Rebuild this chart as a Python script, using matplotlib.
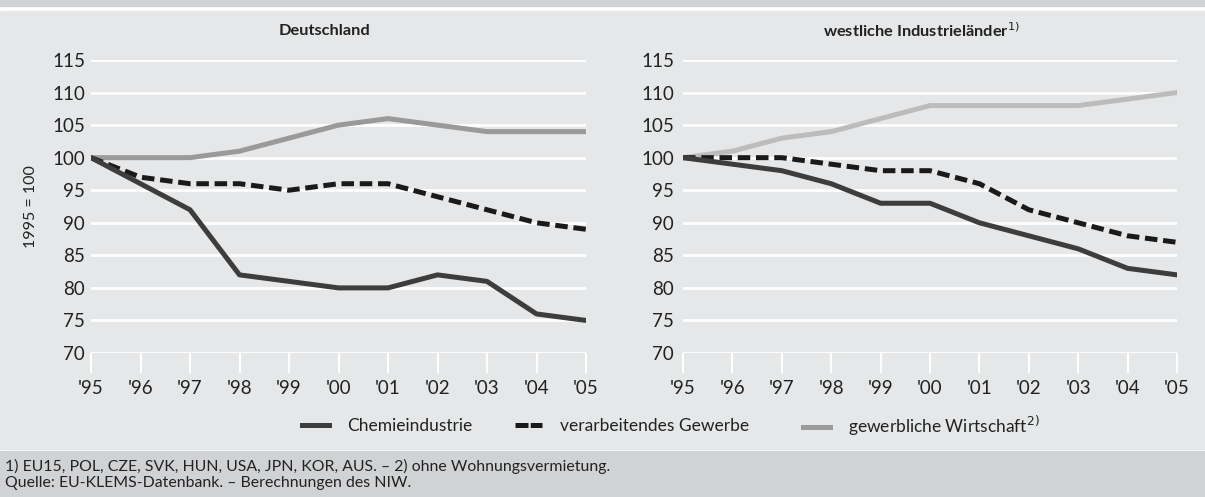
import matplotlib.pyplot as plt
from matplotlib.lines import Line2D
from matplotlib.patches import Rectangle

plt.rcParams['font.family'] = ['Lato', 'DejaVu Sans']

years = list(range(1995, 2006))
year_labels = ["'95", "'96", "'97", "'98", "'99", "'00", "'01", "'02", "'03", "'04", "'05"]
y_ticks = [70, 75, 80, 85, 90, 95, 100, 105, 110, 115]

# Deutschland
de_chemie = [100, 96, 92, 82, 81, 80, 80, 82, 81, 76, 75]
de_verarb = [100, 97, 96, 96, 95, 96, 96, 94, 92, 90, 89]
de_gewerb = [100, 100, 100, 101, 103, 105, 106, 105, 104, 104, 104]

# westliche Industrielaender
wi_chemie = [100, 99, 98, 96, 93, 93, 90, 88, 86, 83, 82]
wi_verarb = [100, 100, 100, 99, 98, 98, 96, 92, 90, 88, 87]
wi_gewerb = [100, 101, 103, 104, 106, 108, 108, 108, 108, 109, 110]

W, H = 1205, 497
fig = plt.figure(figsize=(W / 100, H / 100), dpi=100)
fig.patch.set_facecolor('white')

bg = '#e6e7e8'
band = '#d1d2d4'
fig.patches.append(Rectangle((0, 1 - 6 / H), 1, 6 / H, transform=fig.transFigure, color=band, zorder=-10))
fig.patches.append(Rectangle((0, 1 - 449 / H), 1, 438 / H, transform=fig.transFigure, color=bg, zorder=-10))
fig.patches.append(Rectangle((0, 0), 1, 46 / H, transform=fig.transFigure, color=band, zorder=-10))

txt = '#222222'
c_chemie = '#3d3d3d'
c_verarb = '#1a1a1a'
c_gew_de = '#9a9a9a'
c_gew_wi = '#bcbcbc'
lw = 3.6
dash = (2.5, 1.15)


def panel(left, width, chemie, verarb, gewerb, gew_color, ypad):
    ax = fig.add_axes([left / W, 1 - 353 / H, width / W, 293 / H])
    ax.set_facecolor('none')
    for v in y_ticks:
        ax.axhline(v, color='white', lw=2, zorder=1)
    ax.plot(years, gewerb, color=gew_color, lw=lw, zorder=3)
    ax.plot(years, verarb, color=c_verarb, lw=lw, dashes=dash, dash_capstyle='butt', zorder=4)
    ax.plot(years, chemie, color=c_chemie, lw=lw, zorder=5)
    ax.set_xlim(1995, 2005)
    ax.set_ylim(70, 115)
    ax.set_yticks(y_ticks)
    ax.set_xticks(years)
    ax.set_xticklabels(year_labels)
    for s in ax.spines.values():
        s.set_visible(False)
    ax.tick_params(axis='x', direction='out', length=14.4, width=1.5, color='white',
                   labelsize=13.5, labelcolor=txt, pad=5)
    ax.tick_params(axis='y', length=0, labelsize=13.5, labelcolor=txt, pad=ypad)
    return ax


ax1 = panel(91, 495, de_chemie, de_verarb, de_gewerb, c_gew_de, 4.3)
ax1.set_ylabel('1995 = 100', fontsize=11.5, color=txt)
ax1.yaxis.set_label_coords(-0.107, 0.5)
ax2 = panel(683, 494, wi_chemie, wi_verarb, wi_gewerb, c_gew_wi, 6.5)

fig.text(325 / W, 1 - 31 / H, 'Deutschland', ha='center', va='center',
         fontsize=11.8, fontweight='bold', color=txt)
fig.text(921 / W, 1 - 31 / H, 'westliche Industrieländer$^{1)}$', ha='center', va='center',
         fontsize=11.8, fontweight='bold', color=txt)

# legend entries placed one by one
entries = [
    (302, Line2D([], [], color=c_chemie, lw=lw), 'Chemieindustrie'),
    (515, Line2D([], [], color=c_verarb, lw=lw, dashes=(2.6, 0.45), dash_capstyle='butt'),
     'verarbeitendes Gewerbe'),
    (803, Line2D([], [], color=c_gew_de, lw=lw), 'gewerbliche Wirtschaft$^{2)}$'),
]
for x, h, lab in entries:
    fig.legend([h], [lab], loc='center left', bbox_to_anchor=(x / W, 1 - 426 / H),
               frameon=False, fontsize=12.5, handlelength=1.55, handletextpad=1.03,
               borderpad=0, borderaxespad=0, labelcolor=txt)

fig.text(5 / W, 1 - 466 / H, '1) EU15, POL, CZE, SVK, HUN, USA, JPN, KOR, AUS. – 2) ohne Wohnungsvermietung.',
         fontsize=11.4, color=txt, va='center')
fig.text(5 / W, 1 - 483 / H, 'Quelle: EU-KLEMS-Datenbank. – Berechnungen des NIW.',
         fontsize=11.4, color=txt, va='center')

fig.savefig('out.png', dpi=100)
